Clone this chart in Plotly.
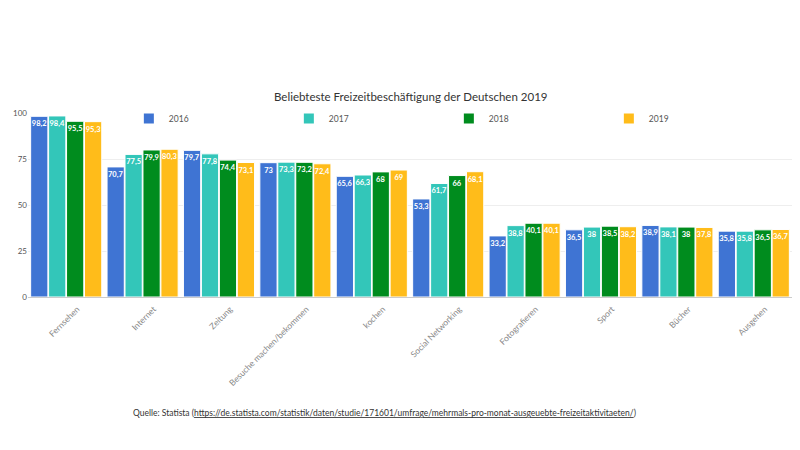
import plotly.graph_objects as go

categories = ["Fernsehen", "Internet", "Zeitung", "Besuche machen/bekommen", "kochen",
              "Social Networking", "Fotografieren", "Sport", "Bücher", "Ausgehen"]
years = ["2016", "2017", "2018", "2019"]
v2016 = [98.2, 70.7, 79.7, 73, 65.6, 53.3, 33.2, 36.5, 38.9, 35.8]
v2017 = [98.4, 77.5, 77.8, 73.3, 66.3, 61.7, 38.8, 38, 38.1, 35.8]
v2018 = [95.5, 79.9, 74.4, 73.2, 68, 66, 40.1, 38.5, 38, 36.5]
v2019 = [95.3, 80.3, 73.1, 72.4, 69, 68.1, 40.1, 38.2, 37.8, 36.7]
series = [v2016, v2017, v2018, v2019]
colors = ["#3f74d3", "#33c6b9", "#008c1e", "#ffbc1a"]

FONT = "Lato, 'Open Sans', sans-serif"
W, H = 792, 442  # page body has an 8px margin

fig = go.Figure()
for name, vals, col in zip(years, series, colors):
    fig.add_trace(go.Bar(
        x=categories, y=vals, name=name,
        marker=dict(color=col, line=dict(color="white", width=1)),
        text=[str(v).replace(".", ",") for v in vals],
        textposition="inside", insidetextanchor="end",
        textfont=dict(color="white", size=7.5, family=FONT, weight="bold"),
        textangle=0, constraintext="none",
        hovertemplate="%{x}: %{y}<extra>" + name + "</extra>",
    ))

fig.update_layout(
    width=W, height=H,
    paper_bgcolor="white", plot_bgcolor="white",
    margin=dict(l=20, r=8, t=105, b=153, autoexpand=False),
    barmode="group", bargap=0.06, bargroupgap=0.04,
    separators=",.",
    font=dict(family=FONT, color="#555"),
    title=dict(text="Beliebteste Freizeitbeschäftigung der Deutschen 2019",
               x=0.501, xanchor="center", xref="paper",
               y=1 - 89 / H, yref="container", yanchor="middle",
               font=dict(size=11.5, color="#333", family=FONT)),
    legend=dict(orientation="h", x=0.132, xanchor="left", y=1.049, yanchor="top",
                entrywidth=115, entrywidthmode="pixels",
                font=dict(size=8.5, color="#555", family=FONT),
                bgcolor="rgba(0,0,0,0)", itemsizing="constant"),
    xaxis=dict(tickangle=-45, tickfont=dict(size=8.5, color="#888", family=FONT),
               ticklabelshift=11, ticklabelstandoff=3,
               showline=True, linecolor="#ccc", linewidth=1, ticks="", automargin=False),
    yaxis=dict(range=[0, 100], tickvals=[0, 25, 50, 75, 100],
               tickfont=dict(size=8, color="#555", family=FONT),
               gridcolor="#eeeeee", zeroline=False, ticks="", automargin=False),
    annotations=[dict(
        text="Quelle: Statista (<a href='https://de.statista.com/statistik/daten/studie/171601/umfrage/mehrmals-pro-monat-ausgeuebte-freizeitaktivitaeten/' style='color:#333'><u>https://de.statista.com/statistik/daten/studie/171601/umfrage/mehrmals-pro-monat-ausgeuebte-freizeitaktivitaeten/</u></a>)",
        xref="paper", yref="paper", x=0.135, y=-0.63, xanchor="left", yanchor="middle",
        showarrow=False, font=dict(size=8.5, color="#333", family=FONT))],
)

fig.write_html("out.html")
